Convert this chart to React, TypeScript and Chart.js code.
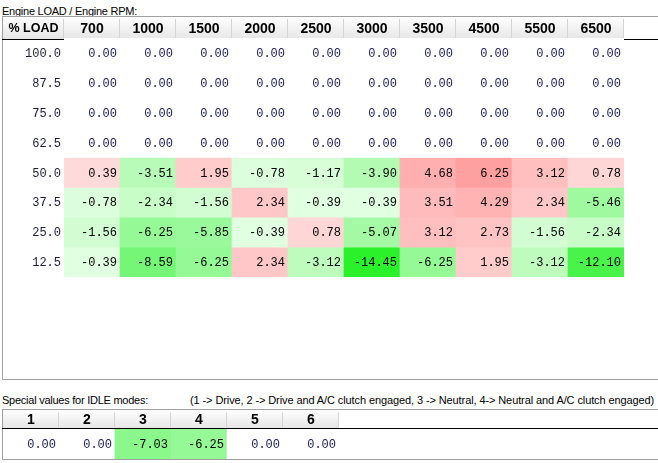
import React, { useEffect, useRef } from "react";
import { Chart, registerables } from "chart.js";
Chart.register(...registerables);

// ---- data ----
const rpmLabels = ["700", "1000", "1500", "2000", "2500", "3000", "3500", "4500", "5500", "6500"];
const loadLabels = ["100.0", "87.5", "75.0", "62.5", "50.0", "37.5", "25.0", "12.5"];
const load1000 = [0, 0, 0, 0, 0, 0, 0, 0, 0, 0];
const load875 = [0, 0, 0, 0, 0, 0, 0, 0, 0, 0];
const load750 = [0, 0, 0, 0, 0, 0, 0, 0, 0, 0];
const load625 = [0, 0, 0, 0, 0, 0, 0, 0, 0, 0];
const load500 = [0.39, -3.51, 1.95, -0.78, -1.17, -3.9, 4.68, 6.25, 3.12, 0.78];
const load375 = [-0.78, -2.34, -1.56, 2.34, -0.39, -0.39, 3.51, 4.29, 2.34, -5.46];
const load250 = [-1.56, -6.25, -5.85, -0.39, 0.78, -5.07, 3.12, 2.73, -1.56, -2.34];
const load125 = [-0.39, -8.59, -6.25, 2.34, -3.12, -14.45, -6.25, 1.95, -3.12, -12.1];
const loadRows = [load1000, load875, load750, load625, load500, load375, load250, load125];

const idleModes = ["1", "2", "3", "4", "5", "6"];
const idleValues = [0, 0, -7.03, -6.25, 0, 0];

const mainTitle = "Engine LOAD / Engine RPM:";
const idleTitle = "Special values for IDLE modes:";
const idleNote = "(1 -> Drive, 2 -> Drive and A/C clutch engaged, 3 -> Neutral, 4-> Neutral and A/C clutch engaged)";
const firstHeader = "% LOAD";

// ---- styling helpers ----
function cellColor(v: number): string {
  if (v === 0) return "#ffffff";
  if (v < 0) {
    const a = Math.max(0, Math.round(230 - 13 * -v));
    const g = Math.round(255 - Math.min(15, -v));
    return `rgb(${a},${g},${a})`;
  }
  const a = Math.max(0, Math.round(222 - 10 * v));
  return `rgb(255,${a},${a})`;
}

const GRAY = "#a0a0a0";
const VALUE_FONT = "12px 'Liberation Mono', 'Courier New', monospace";
const HEADER_FONT = "bold 14px 'Liberation Sans', Arial, sans-serif";

function drawHeaderCell(ctx: CanvasRenderingContext2D, x0: number, x1: number, y0: number, y1: number) {
  const g = ctx.createLinearGradient(0, y0, 0, y1);
  g.addColorStop(0, "#ffffff");
  g.addColorStop(1, "#e6e6e6");
  ctx.fillStyle = g;
  ctx.fillRect(x0, y0, x1 - x0, y1 - y0);
  ctx.fillStyle = "#d4d4d4";
  ctx.fillRect(x1 - 1, y0 + 2, 1, y1 - y0 - 3);
  ctx.fillStyle = "#ffffff";
  ctx.fillRect(x1, y0 + 2, 1, y1 - y0 - 3);
}

type TableOpts = {
  values: number[][];
  rowLabels?: string[];
  cornerLabel?: string;
  frameTop: number;
  frameBottom: number;
  headerTop: number;
  headerBottom: number;
};

function tablePlugin(o: TableOpts) {
  return {
    id: "tableDecor",
    beforeDraw(chart: any) {
      const { ctx, chartArea: ca, width } = chart;
      const xs = chart.scales.x;
      const labels = chart.data.labels as string[];
      const cw = ca.width / labels.length;
      ctx.save();
      // frame
      ctx.fillStyle = GRAY;
      ctx.fillRect(2, o.frameTop, width - 2, 1);
      ctx.fillRect(2, o.frameTop, 1, o.frameBottom - o.frameTop + 1);
      ctx.fillRect(2, o.frameBottom, width - 2, 1);
      // header cells
      const hy0 = o.headerTop;
      const hy1 = o.headerBottom;
      if (o.cornerLabel !== undefined) {
        drawHeaderCell(ctx, 3, ca.left, hy0, hy1);
      }
      labels.forEach((_, i) => {
        const cx = xs.getPixelForValue(i);
        drawHeaderCell(ctx, Math.round(cx - cw / 2), Math.round(cx + cw / 2), hy0, hy1);
      });
      ctx.fillStyle = "#000000";
      ctx.font = HEADER_FONT;
      ctx.textAlign = "center";
      ctx.textBaseline = "middle";
      if (o.cornerLabel !== undefined) {
        ctx.font = "bold 12.5px 'Liberation Sans', Arial, sans-serif";
        ctx.fillText(o.cornerLabel, (3 + ca.left) / 2, (hy0 + hy1) / 2 + 1);
        ctx.font = HEADER_FONT;
      }
      labels.forEach((l, i) => {
        ctx.fillText(l, xs.getPixelForValue(i), (hy0 + hy1) / 2 + 1);
      });
      // black line under header
      ctx.fillStyle = "#000000";
      ctx.fillRect(2, hy1, width - 2, 1);
      ctx.restore();
    },
    afterDatasetsDraw(chart: any) {
      const { ctx, chartArea: ca } = chart;
      const ys = chart.scales.y;
      ctx.save();
      ctx.font = VALUE_FONT;
      ctx.textBaseline = "middle";
      ctx.textAlign = "right";
      o.values.forEach((row, r) => {
        const meta = chart.getDatasetMeta(r);
        meta.data.forEach((el: any, i: number) => {
          const p = el.getProps(["x", "y", "base", "width"], true);
          const v = row[i];
          ctx.fillStyle = v === 0 ? "#1a1a58" : "#000000";
          ctx.fillText(v.toFixed(2), p.x + p.width / 2 - 3, (p.y + p.base) / 2 + 1);
        });
      });
      if (o.rowLabels) {
        ctx.fillStyle = "#1c1c30";
        o.rowLabels.forEach((l, r) => {
          ctx.fillText(l, ca.left - 3, ys.getPixelForValue(r + 0.5) + 1);
        });
      }
      ctx.restore();
    },
  };
}

function makeBarDatasets(rows: number[][], labels: string[]) {
  return rows.map((vals, r) => ({
    label: labels[r],
    data: vals.map(() => [r, r + 1]),
    backgroundColor: vals.map(cellColor),
    borderWidth: 0,
    borderSkipped: false,
    barPercentage: 1,
    categoryPercentage: 1,
    grouped: false,
  }));
}

function baseOptions(rowsCount: number, padding: any) {
  return {
    responsive: false,
    animation: false,
    devicePixelRatio: 1,
    events: [],
    layout: { padding },
    plugins: { legend: { display: false }, tooltip: { enabled: false }, title: { display: false } },
    scales: {
      x: { type: "category", display: false, offset: true },
      y: { type: "linear", display: false, min: 0, max: rowsCount, reverse: true },
    },
  };
}

function MainTable() {
  const ref = useRef<HTMLCanvasElement | null>(null);
  useEffect(() => {
    if (!ref.current) return;
    const chart = new Chart(ref.current, {
      type: "bar",
      data: { labels: rpmLabels, datasets: makeBarDatasets(loadRows, loadLabels) as any },
      options: baseOptions(loadRows.length, { left: 64, right: 34, top: 38, bottom: 103 }) as any,
      plugins: [
        tablePlugin({
          values: loadRows,
          rowLabels: loadLabels,
          cornerLabel: firstHeader,
          frameTop: 16,
          frameBottom: 379,
          headerTop: 17,
          headerBottom: 39,
        }) as any,
      ],
    });
    return () => chart.destroy();
  }, []);
  return (
    <canvas
      ref={ref}
      width={658}
      height={380}
      style={{ position: "absolute", left: 0, top: 0, width: 658, height: 380 }}
    />
  );
}

function IdleTable() {
  const ref = useRef<HTMLCanvasElement | null>(null);
  useEffect(() => {
    if (!ref.current) return;
    const chart = new Chart(ref.current, {
      type: "bar",
      data: { labels: idleModes, datasets: makeBarDatasets([idleValues], ["idle"]) as any },
      options: baseOptions(1, { left: 3, right: 319, top: 49, bottom: 4 }) as any,
      plugins: [
        tablePlugin({
          values: [idleValues],
          frameTop: 29,
          frameBottom: 79,
          headerTop: 30,
          headerBottom: 48,
        }) as any,
      ],
    });
    return () => chart.destroy();
  }, []);
  return (
    <canvas
      ref={ref}
      width={658}
      height={83}
      style={{ position: "absolute", left: 0, top: 380, width: 658, height: 83 }}
    />
  );
}

const labelStyle: React.CSSProperties = {
  position: "absolute",
  font: "11px 'Liberation Sans', Arial, sans-serif",
  letterSpacing: "-0.25px",
  lineHeight: "13px",
  color: "#000",
  whiteSpace: "nowrap",
};

export default function App() {
  return (
    <div
      style={{
        position: "absolute",
        left: 0,
        top: 0,
        width: 658,
        height: 463,
        background: "#ffffff",
        overflow: "hidden",
      }}
    >
      <div style={{ ...labelStyle, left: 2, top: 5 }}>{mainTitle}</div>
      <MainTable />
      <div style={{ ...labelStyle, left: 2, top: 394 }}>{idleTitle}</div>
      <div style={{ ...labelStyle, left: 190, top: 394, letterSpacing: "-0.1px" }}>{idleNote}</div>
      <IdleTable />
    </div>
  );
}
